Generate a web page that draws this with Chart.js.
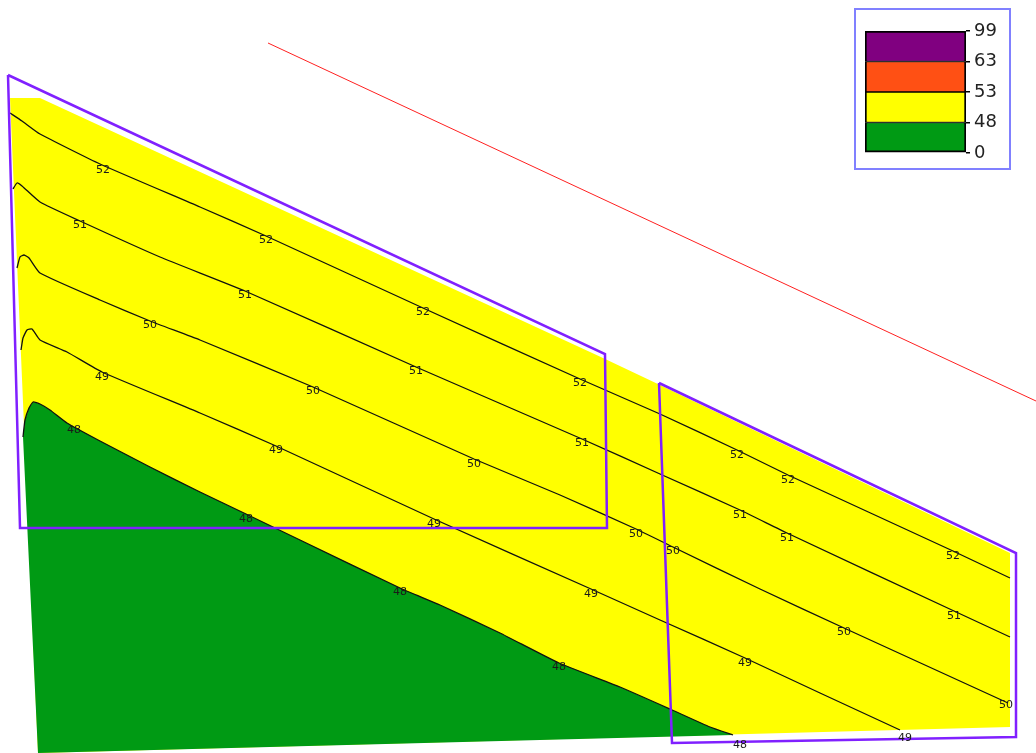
<!DOCTYPE html>
<html>
<head>
<meta charset="utf-8">
<script src="https://cdn.jsdelivr.net/npm/chart.js@4.4.1/dist/chart.umd.min.js"></script>
<style>
  html, body { margin: 0; padding: 0; background: #fff; overflow: hidden; }
  #wrap { position: relative; width: 1036px; height: 753px; }
  #map { position: absolute; left: 0; top: 0; }
  #key { position: absolute; left: 854px; top: 8px; width: 157px; height: 162px;
         box-sizing: border-box; border: 2px solid #8080ff; background: #fff; }
  #key canvas { display: block; }
</style>
</head>
<body>
<div id="wrap">
  <canvas id="map" width="1036" height="753"></canvas>
  <div id="key"><canvas id="keyChart" width="153" height="158"></canvas></div>
</div>
<script>
// ---------------------------------------------------------------------------
//  Noise map: coloured bands (green < 48, yellow 48-53), isolines 48..52,
//  two calculation areas (violet) and a reference line (red).
//  Map units = grid units of the drawing (x right, y down).
// ---------------------------------------------------------------------------

// colour bands of the key (bottom -> top)
const bandLimits = ["0", "48", "53", "63", "99"];
const bandColors = ["#009a14", "#ffff00", "#ff5014", "#800080"];

// calculated area (band 48-53)
const areaYellow = [[10, 98], [40, 98], [603, 358], [660, 385], [1010, 553],
                    [1010, 727], [38, 753], [10, 98]];

// isolines
const iso52 = [[10, 113], [22, 121], [40, 134], [100, 164], [200, 207], [266, 236],
               [423, 308], [580, 379], [660, 414], [737, 450], [788, 475],
               [953, 551], [1010, 578]];
const iso51 = [[13, 189], [17, 183], [22, 186], [40, 202], [80, 221], [160, 257],
               [245, 291], [416, 367], [582, 439], [660, 474], [740, 510],
               [787, 533], [954, 611], [1010, 637]];
const iso50 = [[17, 268], [20, 257], [24, 255], [29, 258], [40, 273], [100, 300],
               [150, 321], [200, 340], [313, 387], [474, 459], [560, 495],
               [636, 529], [673, 547], [760, 589], [844, 628], [1008, 703]];
const iso49 = [[21, 350], [23, 338], [27, 330], [32, 329], [40, 340], [67, 352],
               [102, 372], [200, 413], [276, 446], [434, 519], [591, 589],
               [660, 620], [745, 658], [820, 693], [900, 730]];
const iso48 = [[23, 437], [25, 420], [29, 408], [33, 402], [40, 404], [50, 410],
               [67, 423], [100, 441], [150, 467], [200, 492], [246, 514], [300, 540],
               [400, 588], [440, 605], [500, 633], [559, 663], [620, 687],
               [670, 709], [710, 727], [733, 735]];

// band < 48 : below isoline 48 down to the area edge
const areaGreen = iso48.concat([[38, 753], [23, 437]]);

// calculation areas and reference line
const calcArea1 = [[8, 75], [605, 354], [607, 528], [20, 528], [8, 75]];
const calcArea2 = [[659, 383], [1016, 553], [1016, 737], [672, 743], [659, 383]];
const refLine = [[268, 43], [1036, 401]];

// isoline labels
const labelText = ["52", "52", "52", "52", "52", "52", "52",
                   "51", "51", "51", "51", "51", "51", "51",
                   "50", "50", "50", "50", "50", "50", "50",
                   "49", "49", "49", "49", "49", "49",
                   "48", "48", "48", "48", "48"];
const labelX = [103, 266, 423, 580, 737, 788, 953,
                80, 245, 416, 582, 740, 787, 954,
                150, 313, 474, 636, 673, 844, 1006,
                102, 276, 434, 591, 745, 905,
                74, 246, 400, 559, 740];
const labelY = [170, 240, 312, 383, 455, 480, 556,
                225, 295, 371, 443, 515, 538, 616,
                325, 391, 464, 534, 551, 632, 705,
                377, 450, 524, 594, 663, 738,
                430, 519, 592, 667, 745];

const pts = (arr) => arr.map(([x, y]) => ({ x, y }));

// isoline values written through the chart scales
const contourLabels = {
  id: "contourLabels",
  afterDatasetsDraw(chart) {
    const { ctx, scales: { x, y } } = chart;
    ctx.save();
    ctx.font = '11px "DejaVu Sans"';
    ctx.fillStyle = "#1a1a1a";
    ctx.textAlign = "center";
    ctx.textBaseline = "middle";
    labelText.forEach((t, i) => {
      ctx.fillText(t, x.getPixelForValue(labelX[i]), y.getPixelForValue(labelY[i]));
    });
    ctx.restore();
  }
};

const shape = (data, color, order) => ({
  data: pts(data), showLine: true, fill: "shape", backgroundColor: color,
  borderWidth: 0, borderColor: color, pointRadius: 0, tension: 0, order
});
const iso = (data) => ({
  data: pts(data), showLine: true, fill: false, borderColor: "#111",
  borderWidth: 1.3, pointRadius: 0, tension: 0.15, order: 2
});
const outline = (data, color, width, order) => ({
  data: pts(data), showLine: true, fill: false, borderColor: color,
  borderWidth: width, pointRadius: 0, tension: 0, order
});

new Chart(document.getElementById("map"), {
  type: "scatter",
  data: {
    datasets: [
      shape(areaYellow, bandColors[1], 5),
      shape(areaGreen, bandColors[0], 4),
      iso(iso52), iso(iso51), iso(iso50), iso(iso49), iso(iso48),
      outline(calcArea1, "#8020ff", 2.5, 1),
      outline(calcArea2, "#8020ff", 2.5, 1),
      outline(refLine, "#ff2020", 1, 0)
    ]
  },
  options: {
    responsive: false,
    animation: false,
    layout: { padding: 0 },
    plugins: { legend: { display: false }, tooltip: { enabled: false } },
    scales: {
      x: { type: "linear", min: 0, max: 1036, display: false },
      y: { type: "linear", min: 0, max: 753, reverse: true, display: false }
    }
  },
  plugins: [contourLabels]
});

// key: 4 stacked blocks of equal height, limits as right-hand ticks
const keyBorders = [
  { left: 2, right: 2, top: 1, bottom: 2 },
  { left: 2, right: 2, top: 1, bottom: 1 },
  { left: 2, right: 2, top: 1, bottom: 1 },
  { left: 2, right: 2, top: 2, bottom: 1 }
];
new Chart(document.getElementById("keyChart"), {
  type: "bar",
  data: {
    labels: [""],
    datasets: bandColors.map((c, i) => ({
      data: [1], backgroundColor: c, borderColor: "#000",
      borderWidth: keyBorders[i], borderSkipped: false,
      barPercentage: 1, categoryPercentage: 1
    }))
  },
  options: {
    responsive: false,
    animation: false,
    layout: { padding: { left: 9, top: 21, bottom: 15, right: 0 } },
    plugins: { legend: { display: false }, tooltip: { enabled: false } },
    scales: {
      x: { stacked: true, display: false },
      y: {
        stacked: true, position: "right", min: 0, max: 4,
        afterFit: (s) => { s.width = 43; },
        border: { display: false },
        grid: { drawOnChartArea: false, drawTicks: true, tickLength: 4, color: "#000", lineWidth: 1.5 },
        ticks: {
          stepSize: 1, padding: 4, color: "#222",
          font: { family: "DejaVu Sans", size: 18 },
          callback: (v) => bandLimits[v]
        }
      }
    }
  }
});
</script>
</body>
</html>
